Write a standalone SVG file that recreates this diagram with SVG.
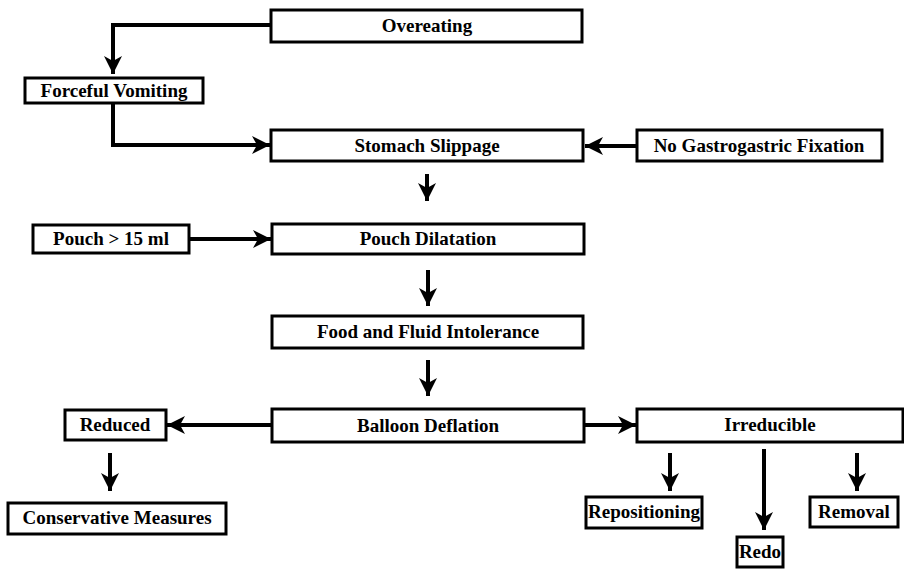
<svg xmlns="http://www.w3.org/2000/svg" width="904" height="570" viewBox="0 0 904 570">
<defs>
<marker id="ah" markerUnits="userSpaceOnUse" markerWidth="20" markerHeight="18" refX="18" refY="9" orient="auto">
<path d="M0,0 L18,9 L0,18 L5,9 Z" fill="#000"/>
</marker>
</defs>
<style>
.box{fill:#fff;stroke:#000;stroke-width:3}
.t{font-family:'Liberation Serif','Times New Roman','DejaVu Serif',serif;font-weight:700;font-size:19px;text-anchor:middle;fill:#000}
.c{fill:none;stroke:#000;stroke-width:4;marker-end:url(#ah)}
</style>
<rect width="904" height="570" fill="#fff"/>
<g id="connectors">
<path class="c" d="M271,25 H113 V74"/>
<path class="c" d="M113,103 V145 H270"/>
<path class="c" d="M637,146 H585"/>
<path class="c" d="M427,174 V201"/>
<path class="c" d="M189,239 H271"/>
<path class="c" d="M428,270 V306"/>
<path class="c" d="M428,360 V396"/>
<path class="c" d="M272,425 H167"/>
<path class="c" d="M584,425 H636"/>
<path class="c" d="M110,453 V491"/>
<path class="c" d="M670,453 V491"/>
<path class="c" d="M764,449 V530"/>
<path class="c" d="M857,453 V491"/>
</g>
<g id="overeating"><rect class="box" x="271" y="10" width="311" height="32"/><text class="t" x="427" y="32">Overeating</text></g>
<g id="forceful-vomiting"><rect class="box" x="25" y="78" width="178" height="25"/><text class="t" x="114" y="97">Forceful Vomiting</text></g>
<g id="stomach-slippage"><rect class="box" x="271" y="130" width="312" height="31"/><text class="t" x="427" y="152">Stomach Slippage</text></g>
<g id="no-fixation"><rect class="box" x="637" y="130" width="245" height="31"/><text class="t" x="759" y="152">No Gastrogastric Fixation</text></g>
<g id="pouch-15"><rect class="box" x="33" y="225" width="156" height="28"/><text class="t" x="111" y="245">Pouch &gt; 15 ml</text></g>
<g id="pouch-dilatation"><rect class="box" x="272" y="224" width="312" height="30"/><text class="t" x="428" y="245">Pouch Dilatation</text></g>
<g id="food-fluid"><rect class="box" x="272" y="316" width="311" height="32"/><text class="t" x="428" y="338">Food and Fluid Intolerance</text></g>
<g id="balloon-deflation"><rect class="box" x="272" y="409" width="312" height="33"/><text class="t" x="428" y="432">Balloon Deflation</text></g>
<g id="reduced"><rect class="box" x="65" y="410" width="101" height="30"/><text class="t" x="115" y="431">Reduced</text></g>
<g id="conservative"><rect class="box" x="8" y="503" width="218" height="31"/><text class="t" x="117" y="524">Conservative Measures</text></g>
<g id="irreducible"><rect class="box" x="637" y="409" width="266" height="33"/><text class="t" x="770" y="431">Irreducible</text></g>
<g id="repositioning"><rect class="box" x="586" y="497" width="116" height="31"/><text class="t" x="644" y="518">Repositioning</text></g>
<g id="redo"><rect class="box" x="737" y="537" width="46" height="30"/><text class="t" x="760" y="558">Redo</text></g>
<g id="removal"><rect class="box" x="810" y="497" width="88" height="30"/><text class="t" x="854" y="518">Removal</text></g>
</svg>
